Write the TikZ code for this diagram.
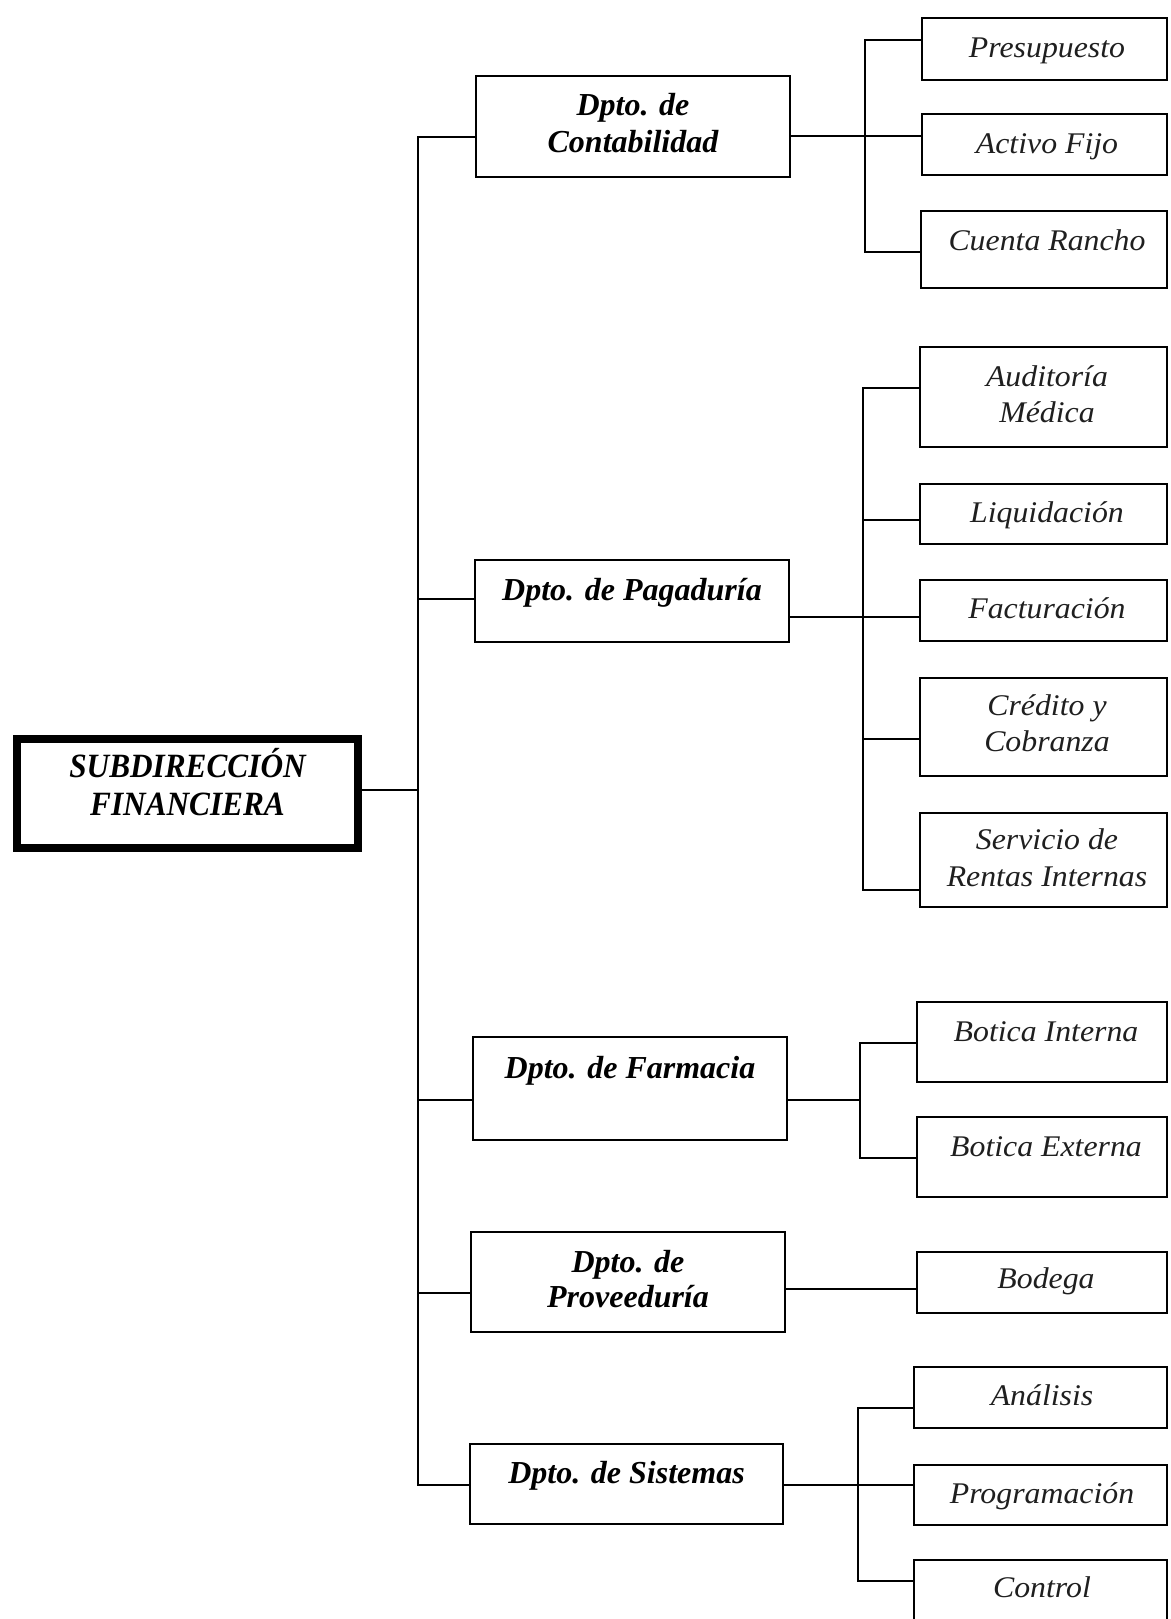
\documentclass[tikz,border=0pt]{standalone}
\usepackage{fontspec}
\setmainfont{Liberation Serif}
\newfontfamily\subfont[FakeStretch=1.06]{Liberation Serif}
\newfontfamily\headfont[FakeStretch=0.92]{Liberation Serif}

\begin{document}
\begin{tikzpicture}[x=1pt,y=-1pt,
  conn/.style={line width=2.2pt, line cap=rect},
  dbox/.style={draw, line width=2.8pt, inner sep=0pt, fill=white},
  sbox/.style={draw, line width=2.8pt, inner sep=0pt, fill=white},
  mbox/.style={draw, line width=8pt, inner sep=0pt, fill=white},
  deptlabel/.style={anchor=base, inner sep=0pt,
    font=\bfseries\itshape\fontsize{32}{38}\selectfont},
  sublabel/.style={anchor=base, inner sep=0pt, text=black!88,
    font=\subfont\itshape\fontsize{30}{36}\selectfont},
  headlabel/.style={anchor=base, inner sep=0pt,
    font=\headfont\bfseries\itshape\fontsize{34}{40}\selectfont},
]
\path[use as bounding box] (0,0) rectangle (1170,1619);
\clip (0,0) rectangle (1170,1619);
\fill[white] (0,0) rectangle (1170,1619);

% ---------- head of the chart ----------
\node[mbox, minimum width=341pt, minimum height=109pt] (main) at (187.5,793.5) {};
\node[headlabel] (mainA) at (187.5,777) {SUBDIRECCIÓN};
\node[headlabel] (mainB) at (187.5,815) {FINANCIERA};

% ---------- departments ----------
\node[dbox, minimum width=314pt, minimum height=101pt] (cont) at (633,126.5) {};
\node[deptlabel] (contA) at (633,115) {Dpto. de};
\node[deptlabel] (contB) at (633,152) {Contabilidad};

\node[dbox, minimum width=314pt, minimum height=82pt] (paga) at (632,601) {};
\node[deptlabel] (pagaA) at (632,600) {Dpto. de Pagaduría};

\node[dbox, minimum width=314pt, minimum height=103pt] (farm) at (630,1088.5) {};
\node[deptlabel] (farmA) at (630,1078) {Dpto. de Farmacia};

\node[dbox, minimum width=314pt, minimum height=100pt] (prov) at (628,1282) {};
\node[deptlabel] (provA) at (628,1272) {Dpto. de};
\node[deptlabel] (provB) at (628,1307) {Proveeduría};

\node[dbox, minimum width=313pt, minimum height=80pt] (sist) at (626.5,1484) {};
\node[deptlabel] (sistA) at (626.5,1483) {Dpto. de Sistemas};

% ---------- sections of Contabilidad ----------
\node[sbox, minimum width=245pt, minimum height=62pt] (pres) at (1044.5,49) {};
\node[sublabel] (presA) at (1047,57) {Presupuesto};
\node[sbox, minimum width=245pt, minimum height=61pt] (act) at (1044.5,144.5) {};
\node[sublabel] (actA) at (1047,153) {Activo Fijo};
\node[sbox, minimum width=246pt, minimum height=77pt] (cta) at (1044,249.5) {};
\node[sublabel] (ctaA) at (1047,250) {Cuenta Rancho};

% ---------- sections of Pagaduría ----------
\node[sbox, minimum width=247pt, minimum height=100pt] (aud) at (1043.5,397) {};
\node[sublabel] (audA) at (1047,386) {Auditoría};
\node[sublabel] (audB) at (1047,422) {Médica};
\node[sbox, minimum width=247pt, minimum height=60pt] (liq) at (1043.5,514) {};
\node[sublabel] (liqA) at (1047,522) {Liquidación};
\node[sbox, minimum width=247pt, minimum height=61pt] (fac) at (1043.5,610.5) {};
\node[sublabel] (facA) at (1047,618) {Facturación};
\node[sbox, minimum width=247pt, minimum height=98pt] (cred) at (1043.5,727) {};
\node[sublabel] (credA) at (1047,715) {Crédito y};
\node[sublabel] (credB) at (1047,751) {Cobranza};
\node[sbox, minimum width=247pt, minimum height=94pt] (sri) at (1043.5,860) {};
\node[sublabel] (sriA) at (1047,849) {Servicio de};
\node[sublabel] (sriB) at (1047,886) {Rentas Internas};

% ---------- sections of Farmacia and Proveeduría ----------
\node[sbox, minimum width=250pt, minimum height=80pt] (botint) at (1042,1042) {};
\node[sublabel] (botintA) at (1046,1041) {Botica Interna};
\node[sbox, minimum width=250pt, minimum height=80pt] (botext) at (1042,1157) {};
\node[sublabel] (botextA) at (1046,1156) {Botica Externa};
\node[sbox, minimum width=250pt, minimum height=61pt] (bod) at (1042,1282.5) {};
\node[sublabel] (bodA) at (1046,1288) {Bodega};

% ---------- sections of Sistemas ----------
\node[sbox, minimum width=253pt, minimum height=61pt] (anal) at (1040.5,1397.5) {};
\node[sublabel] (analA) at (1042,1405) {Análisis};
\node[sbox, minimum width=253pt, minimum height=60pt] (prog) at (1040.5,1495) {};
\node[sublabel] (progA) at (1042,1503) {Programación};
\node[sbox, minimum width=253pt, minimum height=90pt] (ctrl) at (1040.5,1605) {};
\node[sublabel] (ctrlA) at (1042,1597) {Control};

% ---------- main trunk ----------
\coordinate (trkTop) at (418,137);
\coordinate (trkBot) at (418,1485);
\coordinate (jMain) at (418,790);
\coordinate (jPaga) at (418,599);
\coordinate (jFarm) at (418,1100);
\coordinate (jProv) at (418,1293);
\draw[conn] (trkTop) -- (trkBot);
\draw[conn] (jMain -| main.east) -- (jMain);
\draw[conn] (trkTop) -- (trkTop -| cont.west);
\draw[conn] (jPaga) -- (jPaga -| paga.west);
\draw[conn] (jFarm) -- (jFarm -| farm.west);
\draw[conn] (jProv) -- (jProv -| prov.west);
\draw[conn] (trkBot) -- (trkBot -| sist.west);

% ---------- Contabilidad branch ----------
\coordinate (cTop) at (865,40);
\coordinate (cMid) at (865,136);
\coordinate (cBot) at (865,252);
\draw[conn] (cTop) -- (cBot);
\draw[conn] (cTop) -- (cTop -| pres.west);
\draw[conn] (cMid -| cont.east) -- (cMid -| act.west);
\draw[conn] (cBot) -- (cBot -| cta.west);

% ---------- Pagaduría branch ----------
\coordinate (pTop) at (863,388);
\coordinate (pLiq) at (863,520);
\coordinate (pMid) at (863,617);
\coordinate (pCred) at (863,739);
\coordinate (pBot) at (863,890);
\draw[conn] (pTop) -- (pBot);
\draw[conn] (pTop) -- (pTop -| aud.west);
\draw[conn] (pLiq) -- (pLiq -| liq.west);
\draw[conn] (pMid -| paga.east) -- (pMid -| fac.west);
\draw[conn] (pCred) -- (pCred -| cred.west);
\draw[conn] (pBot) -- (pBot -| sri.west);

% ---------- Farmacia branch ----------
\coordinate (fTop) at (860,1043);
\coordinate (fMid) at (860,1100);
\coordinate (fBot) at (860,1158);
\draw[conn] (fTop) -- (fBot);
\draw[conn] (fMid -| farm.east) -- (fMid);
\draw[conn] (fTop) -- (fTop -| botint.west);
\draw[conn] (fBot) -- (fBot -| botext.west);

% ---------- Proveeduría branch ----------
\coordinate (vMid) at (860,1289);
\draw[conn] (vMid -| prov.east) -- (vMid -| bod.west);

% ---------- Sistemas branch ----------
\coordinate (sTop) at (858,1408);
\coordinate (sMid) at (858,1485);
\coordinate (sBot) at (858,1581);
\draw[conn] (sTop) -- (sBot);
\draw[conn] (sTop) -- (sTop -| anal.west);
\draw[conn] (sMid -| sist.east) -- (sMid -| prog.west);
\draw[conn] (sBot) -- (sBot -| ctrl.west);
\end{tikzpicture}
\end{document}
